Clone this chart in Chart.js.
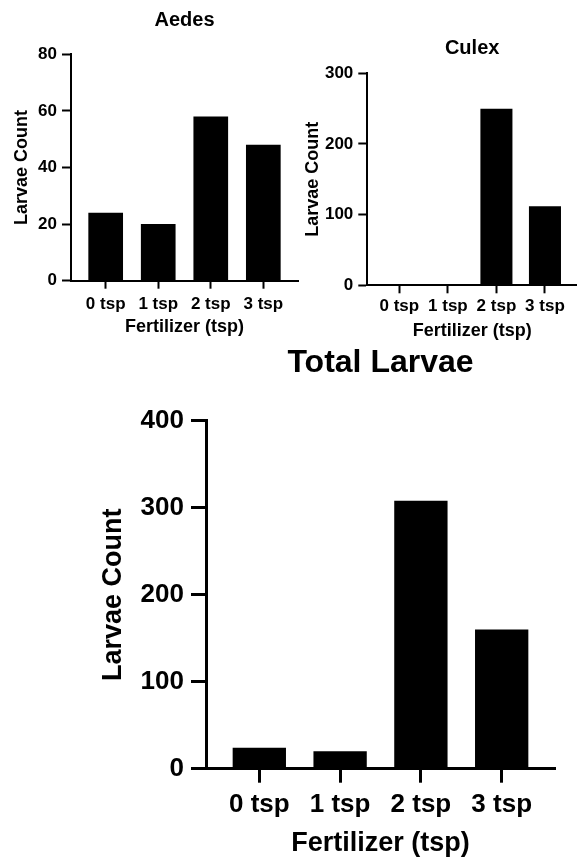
<!DOCTYPE html>
<html>
<head>
<meta charset="utf-8">
<script src="https://cdn.jsdelivr.net/npm/chart.js@4.4.1/dist/chart.umd.min.js"></script>
<style>
  body { margin: 0; background: #fff; width: 577px; height: 862px; position: relative; overflow: hidden; }
  canvas { position: absolute; }
  #aedes { left: 0; top: 0; }
  #culex { left: 290px; top: 0; }
  #total { left: 0; top: 340px; }
</style>
</head>
<body>
<canvas id="aedes" width="300" height="340"></canvas>
<canvas id="culex" width="287" height="345"></canvas>
<canvas id="total" width="577" height="522"></canvas>
<script>
// data
const tspLabels = ['0 tsp', '1 tsp', '2 tsp', '3 tsp'];
const aedesCounts = [24, 20, 58, 48];
const culexCounts = [0, 0, 250, 112];
const totalCounts = [24, 20, 308, 160];

Chart.defaults.font.family = '"Liberation Sans", Arial, Helvetica, sans-serif';
Chart.defaults.font.weight = 'bold';
Chart.defaults.color = '#000';

// small helper so the three panels share the same look
function barPanel(id, title, values, yMax, step, s) {
    const ctx = document.getElementById(id).getContext('2d');
    return new Chart(ctx, {
        type: 'bar',
        data: {
            datasets: [{
                data: values.map((v, i) => ({ x: i, y: v })),
                backgroundColor: '#000',
                borderColor: '#000',
                borderWidth: 0,
                categoryPercentage: 1,
                barPercentage: 0.66
            }]
        },
        options: {
            responsive: false,
            animation: false,
            devicePixelRatio: 1,
            layout: { padding: { left: s.padLeft, right: s.padRight, top: 0, bottom: 0 } },
            plugins: {
                legend: { display: false },
                tooltip: { enabled: false },
                title: {
                    display: true,
                    text: title,
                    fullSize: false,
                    font: { size: s.titleSize, weight: 'bold' },
                    color: '#000',
                    padding: { top: s.titleTop, bottom: s.titleBottom }
                }
            },
            scales: {
                x: {
                    type: 'linear',
                    min: -0.66,
                    max: 3.66,
                    offset: false,
                    afterBuildTicks: (scale) => {
                        scale.ticks = tspLabels.map((t, i) => ({ value: i }));
                    },
                    afterFit: (scale) => { scale.height = s.xHeight; },
                    ticks: {
                        callback: (v) => tspLabels[v],
                        font: { size: s.tickSize, weight: 'bold' },
                        color: '#000',
                        padding: s.xTickPad,
                        maxRotation: 0,
                        autoSkip: false
                    },
                    grid: {
                        offset: false,
                        drawOnChartArea: false,
                        drawTicks: true,
                        tickLength: s.xTickLen,
                        tickColor: '#000',
                        tickWidth: s.line
                    },
                    border: { display: true, color: '#000', width: s.line },
                    title: {
                        display: true,
                        text: 'Fertilizer (tsp)',
                        font: { size: s.axisTitleSize, weight: 'bold' },
                        color: '#000',
                        padding: { top: 0, bottom: s.xTitlePad }
                    }
                },
                y: {
                    min: 0,
                    max: yMax,
                    afterFit: (scale) => { scale.width = s.yWidth; },
                    ticks: {
                        stepSize: step,
                        font: { size: s.tickSize, weight: 'bold' },
                        color: '#000',
                        padding: s.yTickPad
                    },
                    grid: {
                        drawOnChartArea: false,
                        drawTicks: true,
                        tickLength: s.yTickLen,
                        tickColor: '#000',
                        tickWidth: s.line
                    },
                    border: { display: true, color: '#000', width: s.line },
                    title: {
                        display: true,
                        text: 'Larvae Count',
                        font: { size: s.axisTitleSize, weight: 'bold' },
                        color: '#000',
                        padding: { top: s.yTitlePad, bottom: 0 }
                    }
                }
            }
        }
    });
}

barPanel('aedes', 'Aedes', aedesCounts, 80, 20, {
    padLeft: 0, padRight: 2, titleSize: 20, titleTop: 8, titleBottom: 22.3,
    xHeight: 59.3, tickSize: 17, xTickPad: 5.6, xTickLen: 8, line: 2,
    axisTitleSize: 18, xTitlePad: 2.5, yWidth: 71, yTickPad: 5, yTickLen: 9, yTitlePad: 10.9
});

barPanel('culex', 'Culex', culexCounts, 300, 100, {
    padLeft: 0, padRight: 0, titleSize: 20, titleTop: 36.5, titleBottom: 12.8,
    xHeight: 59.7, tickSize: 17, xTickPad: 3.2, xTickLen: 8, line: 2,
    axisTitleSize: 18, xTitlePad: 3.5, yWidth: 77.3, yTickPad: 5, yTickLen: 9, yTitlePad: 11.9
});

barPanel('total', 'Total Larvae', totalCounts, 400, 100, {
    padLeft: 90, padRight: 22, titleSize: 32, titleTop: 4.1, titleBottom: 38.2,
    xHeight: 93.3, tickSize: 26, xTickPad: 6.7, xTickLen: 14, line: 3,
    axisTitleSize: 27, xTitlePad: 2.4, yWidth: 116, yTickPad: 7, yTickLen: 15, yTitlePad: 7.8
});
</script>
</body>
</html>
